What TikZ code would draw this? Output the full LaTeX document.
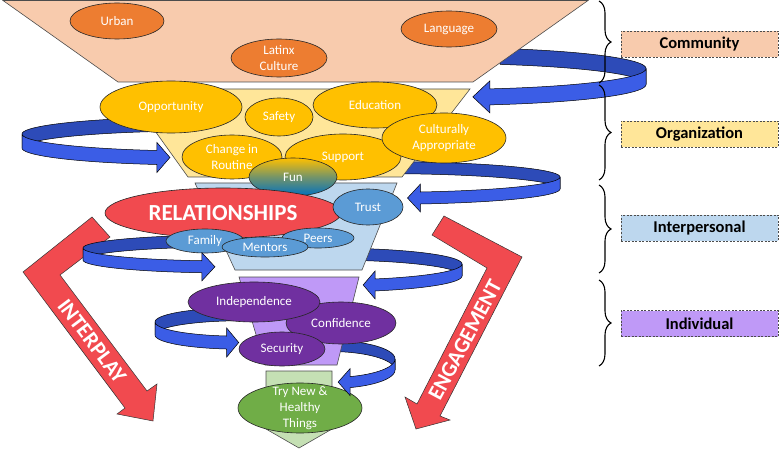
\documentclass[tikz,border=0pt]{standalone}
\usepackage{fontspec}
\setmainfont{Carlito}
\usetikzlibrary{shapes.geometric,decorations.pathreplacing}
\definecolor{peach}{HTML}{F8CBAD}
\definecolor{orgfill}{HTML}{FFE699}
\definecolor{interfill}{HTML}{BDD7EE}
\definecolor{indivfill}{HTML}{BF99F7}
\definecolor{greenL}{HTML}{C5E0B4}
\definecolor{orangeC}{HTML}{ED7D31}
\definecolor{goldC}{HTML}{FFC000}
\definecolor{blueC}{HTML}{5B9BD5}
\definecolor{deepblue}{HTML}{0070C0}
\definecolor{redC}{HTML}{F14A4F}
\definecolor{purpleC}{HTML}{7030A0}
\definecolor{greenC}{HTML}{70AD47}
\definecolor{bandback}{HTML}{2D4BB8}
\definecolor{bandfront}{HTML}{3B5DE6}
\tikzset{
  ell/.style={ellipse, draw=black!85, line width=0.6pt, inner sep=0pt},
  etext/.style={text=white, align=center, inner sep=0pt, font=\fontsize{13}{16}\selectfont},
  orangeE/.style={ell, fill=orangeC},
  goldE/.style={ell, fill=goldC},
  blueE/.style={ell, fill=blueC},
  redE/.style={ell, fill=redC},
  purpleE/.style={ell, fill=purpleC},
  greenE/.style={ell, fill=greenC},
  funE/.style={ell, top color=goldC, bottom color=deepblue, middle color=deepblue!55!goldC},
  trap/.style={draw=black!70, line width=0.6pt},
  backband/.style={fill=bandback, draw=black, line width=0.5pt},
  frontband/.style={fill=bandfront, draw=black, line width=0.5pt},
  redarrow/.style={fill=redC, draw=black!80, line width=0.5pt},
  arrowtext/.style={text=white, font=\bfseries\fontsize{22}{24}\selectfont, inner sep=0pt},
  lbl/.style={draw=black!70, dash pattern=on 2pt off 1.5pt, line width=0.6pt, minimum width=157pt, minimum height=26pt, inner sep=0pt, font=\bfseries\fontsize{16.5}{18}\selectfont},
  curlybrace/.style={decorate, decoration={brace, amplitude=12pt}, line width=1.1pt},
}
\newcommand{\swback}[7]{%
  \filldraw[backband] plot[domain=#6:#7,samples=50,variable=\t] ({#1+#3*cos(\t)},{#2+#4*sin(\t)})
    -- plot[domain=#7:#6,samples=50,variable=\t] ({#1+#3*cos(\t)},{#2+#5+#4*sin(\t)}) -- cycle;}
\newcommand{\swfront}[9]{%
  \pgfmathsetmacro{\swxe}{#1+#3*cos(#7)}%
  \pgfmathsetmacro{\swye}{#2+#4*sin(#7)}%
  \filldraw[frontband] plot[domain=#6:#7,samples=50,variable=\t] ({#1+#3*cos(\t)},{#2+#4*sin(\t)})
    -- ({\swxe},{\swye-#9}) -- ({\swxe+#8},{\swye+#5/2}) -- ({\swxe},{\swye+#5+#9}) -- ({\swxe},{\swye+#5})
    -- plot[domain=#7:#6,samples=50,variable=\t] ({#1+#3*cos(\t)},{#2+#5+#4*sin(\t)}) -- cycle;}
\newcommand{\ellnode}[7]{%
  \node[#1, minimum width=#5pt, minimum height=#6pt] (#2) at (#3,#4) {};
  \node[etext] at (#2.center) {#7};}
\begin{document}
\begin{tikzpicture}[x=1pt,y=-1pt]
\useasboundingbox (0,0) rectangle (779,449);

% red bent arrows
\draw[redarrow] (92,217) -- (110,237) -- (60,275) -- (147,391) -- (157,384) -- (153,421) -- (117,414) -- (125,408) -- (23,272) -- cycle;
\node[arrowtext, rotate=-53] (interplay) at (92,341) {INTERPLAY};
\draw[redarrow] (444,216) -- (522,257) -- (440,416) -- (450,420) -- (416,429) -- (405,397) -- (417,404) -- (487,268) -- (432,235) -- cycle;
\node[arrowtext, rotate=62] (engagement) at (465,340) {ENGAGEMENT};

% back parts of the swirl arrows
\swback{440}{68.5}{206}{21}{16}{287}{360}
\swback{200}{134}{178}{17}{14}{255}{180}
\swback{380}{177}{180}{15.4}{12}{276}{360}
\swback{230}{248}{147}{13}{12}{254}{180}
\swback{330}{264}{132}{15.9}{12}{283}{360}
\swback{240}{322}{85}{14.2}{13}{265}{180}
\swback{330}{359}{65}{18.5}{11}{270}{360}

% funnel levels
\draw[trap, fill=peach] (3,0.5) -- (588,0.5) -- (473,82) -- (118,82) -- cycle;
\draw[trap, fill=orgfill] (125,89) -- (470,89) -- (402,177) -- (188,177) -- cycle;
\draw[trap, fill=interfill] (195,183) -- (397,183) -- (362,270) -- (235,270) -- cycle;
\draw[trap, fill=indivfill] (239,277) -- (359,277) -- (337,365) -- (265,365) -- cycle;
\draw[trap, fill=greenL] (266,371) -- (332,371) -- (332,429) -- (299,448) -- (266,429) -- cycle;

% community
\ellnode{orangeE}{urban}{117}{21}{94}{36}{Urban}
\ellnode{orangeE}{latinx}{279}{58}{96}{38}{Latinx\\Culture}
\ellnode{orangeE}{language}{449}{29}{96}{36}{Language}

% organization
\ellnode{goldE}{opportunity}{171}{107}{142}{52}{Opportunity}
\ellnode{goldE}{safety}{279}{117}{68}{38}{Safety}
\ellnode{goldE}{education}{375}{105}{124}{46}{Education}
\ellnode{goldE}{routine}{232}{157}{100}{44}{Change in\\Routine}
\ellnode{goldE}{support}{343}{157}{116}{46}{Support}
\ellnode{goldE}{culturally}{444}{138}{124}{50}{Culturally\\Appropriate}
\ellnode{funE}{fun}{293}{177}{88}{38}{Fun}

% interpersonal
\ellnode{redE}{relationships}{223}{213}{236}{50}{\fontsize{23}{26}\selectfont\bfseries RELATIONSHIPS}
\ellnode{blueE}{trust}{368}{207}{70}{36}{Trust}
\ellnode{blueE}{family}{205}{241}{78}{24}{Family}
\ellnode{blueE}{peers}{318}{238}{72}{20}{Peers}
\ellnode{blueE}{mentors}{265}{247}{86}{20}{Mentors}

% individual
\ellnode{purpleE}{confidence}{341}{323}{110}{42}{Confidence}
\ellnode{purpleE}{independence}{254}{302}{132}{40}{Independence}
\ellnode{purpleE}{security}{282}{349}{86}{34}{Security}

% outcome
\ellnode{greenE}{trynew}{300}{408}{124}{50}{Try New \&\\Healthy\\Things}

% front parts of the swirl arrows
\swfront{440}{68.5}{206}{21}{16}{360}{436}{-17}{8}
\swfront{200}{134}{178}{17}{14}{180}{104}{13}{8}
\swfront{380}{177}{180}{15.4}{12}{360}{437}{-13}{8}
\swfront{230}{248}{147}{13}{12}{180}{101}{13}{8}
\swfront{330}{264}{132}{15.9}{12}{360}{430}{-12}{8}
\swfront{240}{322}{85}{14.2}{13}{180}{99}{12}{8}
\swfront{330}{359}{65}{18.5}{11}{360}{432}{-12}{8}

% braces
\coordinate (b1t) at (599,1);   \coordinate (b1b) at (599,83);
\coordinate (b2t) at (599,85);  \coordinate (b2b) at (599,180);
\coordinate (b3t) at (599,185); \coordinate (b3b) at (599,273);
\coordinate (b4t) at (599,280); \coordinate (b4b) at (599,366);
\draw[curlybrace] (b1t) -- (b1b);
\draw[curlybrace] (b2t) -- (b2b);
\draw[curlybrace] (b3t) -- (b3b);
\draw[curlybrace] (b4t) -- (b4b);

% level labels
\node[lbl, fill=peach] (lcommunity) at (699.5,44) {Community};
\node[lbl, fill=orgfill] (lorganization) at (699.5,134) {Organization};
\node[lbl, fill=interfill] (linterpersonal) at (699.5,228) {Interpersonal};
\node[lbl, fill=indivfill] (lindividual) at (699.5,323.5) {Individual};
\end{tikzpicture}
\end{document}
